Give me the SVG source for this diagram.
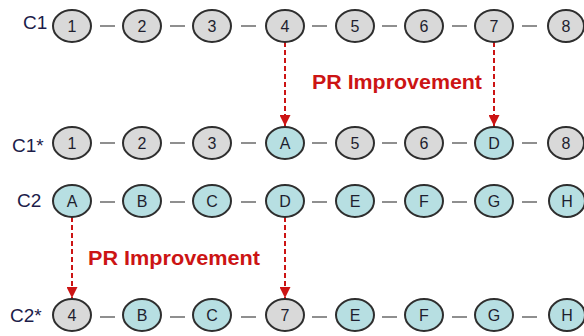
<svg xmlns="http://www.w3.org/2000/svg" width="584" height="336" viewBox="0 0 584 336">
<defs>
<style>
.n ellipse{stroke:#2e2e2e;stroke-width:2}
.g ellipse{fill:#d9d9d9}
.b ellipse{fill:#b7dfe2}
.n text{font-family:"Liberation Sans",Arial,sans-serif;font-size:16px;fill:#1e1e2e;text-anchor:middle}
.lbl{font-family:"Liberation Sans",Arial,sans-serif;font-size:19px;fill:#1c1c4a}
.pr{font-family:"Liberation Sans",Arial,sans-serif;font-size:20px;font-weight:bold;fill:#cc1414}
.d{stroke:#6a6a6a;stroke-width:1.5}
.a{stroke:#cc1414;stroke-width:2;stroke-dasharray:5 3;fill:none}
</style>
<marker id="ah" viewBox="0 0 10 10" refX="10" refY="5" markerWidth="5.5" markerHeight="5.5" markerUnits="strokeWidth" orient="auto">
<path d="M0,0 L10,5 L0,10 Z" fill="#cc1414"/>
</marker>
</defs>
<text class="lbl" x="23" y="29">C1</text>
<text class="lbl" x="12" y="152">C1*</text>
<text class="lbl" x="17" y="207">C2</text>
<text class="lbl" x="10" y="322">C2*</text>
<text class="pr" x="312" y="89" textLength="170" lengthAdjust="spacingAndGlyphs">PR Improvement</text>
<text class="pr" x="88" y="265" textLength="172" lengthAdjust="spacingAndGlyphs">PR Improvement</text>
<g id="connectors">
<g class="d">
<line x1="100" y1="26" x2="115" y2="26"/><line x1="170" y1="26" x2="185" y2="26"/><line x1="241" y1="26" x2="256" y2="26"/><line x1="312" y1="26" x2="327" y2="26"/><line x1="382" y1="26" x2="397" y2="26"/><line x1="452" y1="26" x2="467" y2="26"/><line x1="522" y1="26" x2="537" y2="26"/>
<line x1="100" y1="143" x2="115" y2="143"/><line x1="170" y1="143" x2="185" y2="143"/><line x1="241" y1="143" x2="256" y2="143"/><line x1="312" y1="143" x2="327" y2="143"/><line x1="382" y1="143" x2="397" y2="143"/><line x1="452" y1="143" x2="467" y2="143"/><line x1="522" y1="143" x2="537" y2="143"/>
<line x1="100" y1="202" x2="115" y2="202"/><line x1="170" y1="202" x2="185" y2="202"/><line x1="241" y1="202" x2="256" y2="202"/><line x1="312" y1="202" x2="327" y2="202"/><line x1="382" y1="202" x2="397" y2="202"/><line x1="452" y1="202" x2="467" y2="202"/><line x1="522" y1="202" x2="537" y2="202"/>
<line x1="100" y1="317" x2="115" y2="317"/><line x1="170" y1="317" x2="185" y2="317"/><line x1="241" y1="317" x2="256" y2="317"/><line x1="312" y1="317" x2="327" y2="317"/><line x1="382" y1="317" x2="397" y2="317"/><line x1="452" y1="317" x2="467" y2="317"/><line x1="522" y1="317" x2="537" y2="317"/>
</g>
<line class="a" x1="285" y1="42" x2="285" y2="126" marker-end="url(#ah)"/>
<line class="a" x1="494" y1="42" x2="494" y2="126" marker-end="url(#ah)"/>
<line class="a" x1="72" y1="217" x2="72" y2="298" marker-end="url(#ah)"/>
<line class="a" x1="285" y1="217" x2="285" y2="298" marker-end="url(#ah)"/>
</g>
<g id="c1-1" class="n g"><ellipse cx="72" cy="26" rx="19" ry="16"/><text x="72" y="31.5">1</text></g>
<g id="c1-2" class="n g"><ellipse cx="142" cy="26" rx="19" ry="16"/><text x="142" y="31.5">2</text></g>
<g id="c1-3" class="n g"><ellipse cx="212" cy="26" rx="19" ry="16"/><text x="212" y="31.5">3</text></g>
<g id="c1-4" class="n g"><ellipse cx="285" cy="26" rx="19" ry="16"/><text x="285" y="31.5">4</text></g>
<g id="c1-5" class="n g"><ellipse cx="355" cy="26" rx="19" ry="16"/><text x="355" y="31.5">5</text></g>
<g id="c1-6" class="n g"><ellipse cx="424" cy="26" rx="19" ry="16"/><text x="424" y="31.5">6</text></g>
<g id="c1-7" class="n g"><ellipse cx="494" cy="26" rx="19" ry="16"/><text x="494" y="31.5">7</text></g>
<g id="c1-8" class="n g"><ellipse cx="566" cy="26" rx="18" ry="16"/><text x="566" y="31.5">8</text></g>
<g id="c1s-1" class="n g"><ellipse cx="72" cy="143" rx="19" ry="16"/><text x="72" y="148.5">1</text></g>
<g id="c1s-2" class="n g"><ellipse cx="142" cy="143" rx="19" ry="16"/><text x="142" y="148.5">2</text></g>
<g id="c1s-3" class="n g"><ellipse cx="212" cy="143" rx="19" ry="16"/><text x="212" y="148.5">3</text></g>
<g id="c1s-A" class="n b"><ellipse cx="285" cy="143" rx="19" ry="16"/><text x="285" y="148.5">A</text></g>
<g id="c1s-5" class="n g"><ellipse cx="355" cy="143" rx="19" ry="16"/><text x="355" y="148.5">5</text></g>
<g id="c1s-6" class="n g"><ellipse cx="424" cy="143" rx="19" ry="16"/><text x="424" y="148.5">6</text></g>
<g id="c1s-D" class="n b"><ellipse cx="494" cy="143" rx="19" ry="16"/><text x="494" y="148.5">D</text></g>
<g id="c1s-8" class="n g"><ellipse cx="566" cy="143" rx="18" ry="16"/><text x="566" y="148.5">8</text></g>
<g id="c2-A" class="n b"><ellipse cx="72" cy="201" rx="19" ry="16"/><text x="72" y="206.5">A</text></g>
<g id="c2-B" class="n b"><ellipse cx="142" cy="201" rx="19" ry="16"/><text x="142" y="206.5">B</text></g>
<g id="c2-C" class="n b"><ellipse cx="212" cy="201" rx="19" ry="16"/><text x="212" y="206.5">C</text></g>
<g id="c2-D" class="n b"><ellipse cx="285" cy="201" rx="19" ry="16"/><text x="285" y="206.5">D</text></g>
<g id="c2-E" class="n b"><ellipse cx="355" cy="201" rx="19" ry="16"/><text x="355" y="206.5">E</text></g>
<g id="c2-F" class="n b"><ellipse cx="424" cy="201" rx="19" ry="16"/><text x="424" y="206.5">F</text></g>
<g id="c2-G" class="n b"><ellipse cx="494" cy="201" rx="19" ry="16"/><text x="494" y="206.5">G</text></g>
<g id="c2-H" class="n b"><ellipse cx="567" cy="201" rx="18" ry="16"/><text x="567" y="206.5">H</text></g>
<g id="c2s-4" class="n g"><ellipse cx="72" cy="315" rx="19" ry="16"/><text x="72" y="320.5">4</text></g>
<g id="c2s-B" class="n b"><ellipse cx="142" cy="315" rx="19" ry="16"/><text x="142" y="320.5">B</text></g>
<g id="c2s-C" class="n b"><ellipse cx="212" cy="315" rx="19" ry="16"/><text x="212" y="320.5">C</text></g>
<g id="c2s-7" class="n g"><ellipse cx="285" cy="315" rx="19" ry="16"/><text x="285" y="320.5">7</text></g>
<g id="c2s-E" class="n b"><ellipse cx="355" cy="315" rx="19" ry="16"/><text x="355" y="320.5">E</text></g>
<g id="c2s-F" class="n b"><ellipse cx="424" cy="315" rx="19" ry="16"/><text x="424" y="320.5">F</text></g>
<g id="c2s-G" class="n b"><ellipse cx="494" cy="315" rx="19" ry="16"/><text x="494" y="320.5">G</text></g>
<g id="c2s-H" class="n b"><ellipse cx="567" cy="315" rx="18" ry="16"/><text x="567" y="320.5">H</text></g>
</svg>
